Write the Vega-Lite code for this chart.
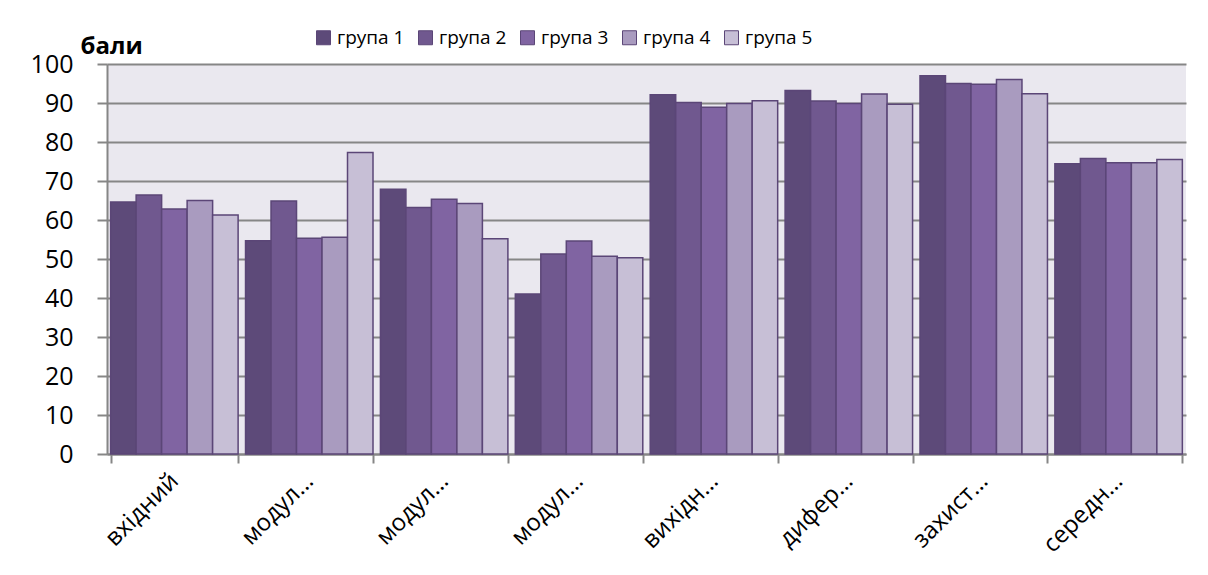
{
  "$schema": "https://vega.github.io/schema/vega-lite/v6.json",
  "width": 1079,
  "height": 390,
  "autosize": {"type": "none"},
  "padding": {"left": 107, "top": 64, "right": 22, "bottom": 121},
  "background": "white",
  "config": {
    "font": "Open Sans",
    "view": {"fill": "#eae8ef", "stroke": null}
  },
  "data": {
    "values": [
      {"k": "вхідний", "g": "група 1", "v": 64.6},
      {"k": "вхідний", "g": "група 2", "v": 66.4},
      {"k": "вхідний", "g": "група 3", "v": 62.8},
      {"k": "вхідний", "g": "група 4", "v": 65.0},
      {"k": "вхідний", "g": "група 5", "v": 61.3},
      {"k": "модульний 1", "g": "група 1", "v": 54.7},
      {"k": "модульний 1", "g": "група 2", "v": 64.9},
      {"k": "модульний 1", "g": "група 3", "v": 55.3},
      {"k": "модульний 1", "g": "група 4", "v": 55.6},
      {"k": "модульний 1", "g": "група 5", "v": 77.3},
      {"k": "модульний 2", "g": "група 1", "v": 67.9},
      {"k": "модульний 2", "g": "група 2", "v": 63.2},
      {"k": "модульний 2", "g": "група 3", "v": 65.3},
      {"k": "модульний 2", "g": "група 4", "v": 64.2},
      {"k": "модульний 2", "g": "група 5", "v": 55.2},
      {"k": "модульний 3", "g": "група 1", "v": 41.0},
      {"k": "модульний 3", "g": "група 2", "v": 51.3},
      {"k": "модульний 3", "g": "група 3", "v": 54.6},
      {"k": "модульний 3", "g": "група 4", "v": 50.7},
      {"k": "модульний 3", "g": "група 5", "v": 50.3},
      {"k": "вихідний контроль", "g": "група 1", "v": 92.1},
      {"k": "вихідний контроль", "g": "група 2", "v": 90.1},
      {"k": "вихідний контроль", "g": "група 3", "v": 88.9},
      {"k": "вихідний контроль", "g": "група 4", "v": 89.9},
      {"k": "вихідний контроль", "g": "група 5", "v": 90.6},
      {"k": "диференційований залік", "g": "група 1", "v": 93.2},
      {"k": "диференційований залік", "g": "група 2", "v": 90.5},
      {"k": "диференційований залік", "g": "група 3", "v": 89.9},
      {"k": "диференційований залік", "g": "група 4", "v": 92.3},
      {"k": "диференційований залік", "g": "група 5", "v": 89.7},
      {"k": "захист проекту", "g": "група 1", "v": 97.0},
      {"k": "захист проекту", "g": "група 2", "v": 95.0},
      {"k": "захист проекту", "g": "група 3", "v": 94.8},
      {"k": "захист проекту", "g": "група 4", "v": 96.0},
      {"k": "захист проекту", "g": "група 5", "v": 92.4},
      {"k": "середній бал", "g": "група 1", "v": 74.4},
      {"k": "середній бал", "g": "група 2", "v": 75.8},
      {"k": "середній бал", "g": "група 3", "v": 74.7},
      {"k": "середній бал", "g": "група 4", "v": 74.7},
      {"k": "середній бал", "g": "група 5", "v": 75.5}
    ]
  },
  "mark": {"type": "bar", "stroke": "#5b4677", "strokeWidth": 1.5},
  "encoding": {
    "x": {
      "field": "k",
      "type": "nominal",
      "sort": null,
      "scale": {"paddingInner": 0.055, "paddingOuter": 0.027},
      "axis": {
        "title": null,
        "tickBand": "extent",
        "tickSize": 9,
        "tickColor": "#868686",
        "tickWidth": 2,
        "domainColor": "#868686",
        "domainWidth": 2,
        "labelAngle": -45,
        "labelAlign": "right",
        "labelBaseline": "middle",
        "labelPadding": 14,
        "labelFontSize": 24,
        "labelColor": "#000000",
        "labelLimit": 0,
        "labelExpr": "datum.label == 'вхідний' ? 'вхідний' : indexof(datum.label, 'модул') == 0 ? 'модул…' : indexof(datum.label, 'вихідн') == 0 ? 'вихідн…' : indexof(datum.label, 'дифер') == 0 ? 'дифер…' : indexof(datum.label, 'захист') == 0 ? 'захист…' : indexof(datum.label, 'серед') == 0 ? 'середн…' : ''"
      }
    },
    "xOffset": {"field": "g", "type": "nominal", "scale": {"paddingInner": 0, "paddingOuter": 0}},
    "y": {
      "field": "v",
      "type": "quantitative",
      "scale": {"domain": [0, 100], "nice": false},
      "axis": {
        "values": [0, 10, 20, 30, 40, 50, 60, 70, 80, 90, 100],
        "title": "бали",
        "titleAngle": 0,
        "titleAlign": "left",
        "titleBaseline": "alphabetic",
        "titleX": -27,
        "titleY": -11,
        "titleFontSize": 24,
        "titleFontWeight": "bold",
        "titleColor": "#000000",
        "labelFontSize": 25,
        "labelColor": "#000000",
        "labelPadding": 24,
        "tickSize": 10,
        "tickColor": "#868686",
        "tickWidth": 2,
        "domainColor": "#868686",
        "domainWidth": 2,
        "grid": true,
        "gridColor": "#868686",
        "gridWidth": 2
      }
    },
    "fill": {
      "field": "g",
      "type": "nominal",
      "scale": {"range": ["#5d4a79", "#70588f", "#8064a2", "#a99bbf", "#c7bfd6"]},
      "legend": {
        "title": null,
        "orient": "none",
        "direction": "horizontal",
        "columns": 5,
        "legendX": 207,
        "legendY": -36,
        "padding": 0,
        "symbolType": "square",
        "symbolSize": 196,
        "symbolStrokeColor": "#5b4677",
        "symbolStrokeWidth": 1,
        "labelFontSize": 19,
        "labelColor": "#000000",
        "labelOffset": 4,
        "columnPadding": 11
      }
    }
  }
}
